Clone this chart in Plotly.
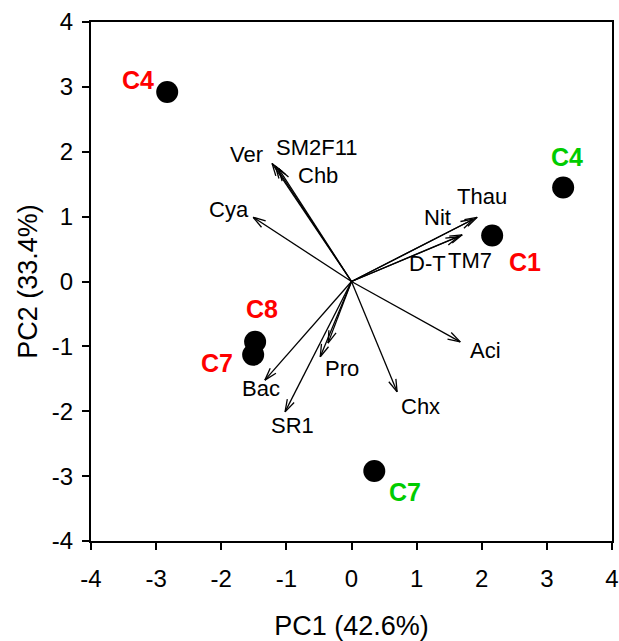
import numpy as np
import plotly.graph_objects as go

# Sample scores on the first two principal components
site_labels = ["C4", "C4", "C1", "C8", "C7", "C7"]
site_pc1 = [-2.83, 3.25, 2.16, -1.48, -1.51, 0.35]
site_pc2 = [2.92, 1.45, 0.71, -0.93, -1.13, -2.92]
site_group = ["A", "B", "A", "A", "A", "B"]

# Variable loadings (biplot vectors)
var_labels = ["Ver", "SM2F11", "Chb", "Cya", "Thau", "Nit", "D-T", "TM7",
              "Aci", "Chx", "Pro", "", "Bac", "SR1"]
var_pc1 = [-1.22, -1.17, -1.12, -1.51, 1.93, 1.87, 1.64, 1.70,
           1.67, 0.70, -0.48, -0.36, -1.33, -1.02]
var_pc2 = [1.82, 1.78, 1.74, 0.99, 0.99, 0.96, 0.69, 0.72,
           -0.93, -1.70, -1.16, -0.95, -1.52, -2.01]

axis_ticks = [-4, -3, -2, -1, 0, 1, 2, 3, 4]

# label placement (pixel shifts from the arrow tip / point)
var_shift = {
    "Ver": (-26, 9), "SM2F11": (42, 19), "Chb": (39, -7), "Cya": (-24, 8),
    "Thau": (5, 21), "Nit": (-36, 2), "D-T": (-31, -27), "TM7": (8, -26),
    "Aci": (25, -9), "Chx": (23, -15), "Pro": (22, -12), "": (0, 0),
    "Bac": (-4, -8), "SR1": (7, -14),
}
site_shift = [(-29, 12), (4, 30), (33, -27), (7, 33), (-36, -8), (31, -21)]
group_color = {"A": "#FF0000", "B": "#00CC00"}

FONT = "Liberation Sans, Arial, sans-serif"

fig = go.Figure()

# arrow shafts and open V heads
head_len = 0.2
half_angle = np.deg2rad(17)
xs, ys = [], []
for x, y in zip(var_pc1, var_pc2):
    xs += [0, x, None]
    ys += [0, y, None]
    ang = np.arctan2(y, x)
    for s in (1, -1):
        a = ang + np.pi + s * half_angle
        xs += [x + head_len * np.cos(a), x, None]
        ys += [y + head_len * np.sin(a), y, None]

fig.add_trace(go.Scatter(x=xs, y=ys, mode="lines",
                         line=dict(color="black", width=1.3),
                         hoverinfo="skip", showlegend=False))

fig.add_trace(go.Scatter(x=site_pc1, y=site_pc2, mode="markers",
                         marker=dict(color="black", size=22),
                         showlegend=False))

annotations = []
for lab, x, y in zip(var_labels, var_pc1, var_pc2):
    if not lab:
        continue
    dx, dy = var_shift[lab]
    annotations.append(dict(x=x, y=y, text=lab, showarrow=False,
                            xshift=dx, yshift=dy,
                            font=dict(family=FONT, size=22, color="black")))
for lab, x, y, g, (dx, dy) in zip(site_labels, site_pc1, site_pc2,
                                  site_group, site_shift):
    annotations.append(dict(x=x, y=y, text="<b>%s</b>" % lab, showarrow=False,
                            xshift=dx, yshift=dy,
                            font=dict(family=FONT, size=25,
                                      color=group_color[g])))

axis_common = dict(
    range=[-4, 4], tickvals=axis_ticks, ticktext=[str(t) for t in axis_ticks],
    ticks="outside", ticklen=7, tickwidth=1.5, tickcolor="black",
    showline=True, linecolor="black", linewidth=2, mirror=True,
    showgrid=False, zeroline=False,
    tickfont=dict(family=FONT, size=24, color="black"),
)

fig.update_xaxes(title=dict(text="PC1 (42.6%)", standoff=27,
                            font=dict(family=FONT, size=27, color="black")),
                 ticklabelstandoff=8, **axis_common)
fig.update_yaxes(title=dict(text="PC2 (33.4%)", standoff=6,
                            font=dict(family=FONT, size=27, color="black")),
                 ticklabelstandoff=4, **axis_common)

fig.update_layout(
    width=619, height=641,
    margin=dict(l=91, r=7, t=22, b=100, autoexpand=False),
    plot_bgcolor="white", paper_bgcolor="white",
    annotations=annotations,
)

fig.write_html("out.html")
